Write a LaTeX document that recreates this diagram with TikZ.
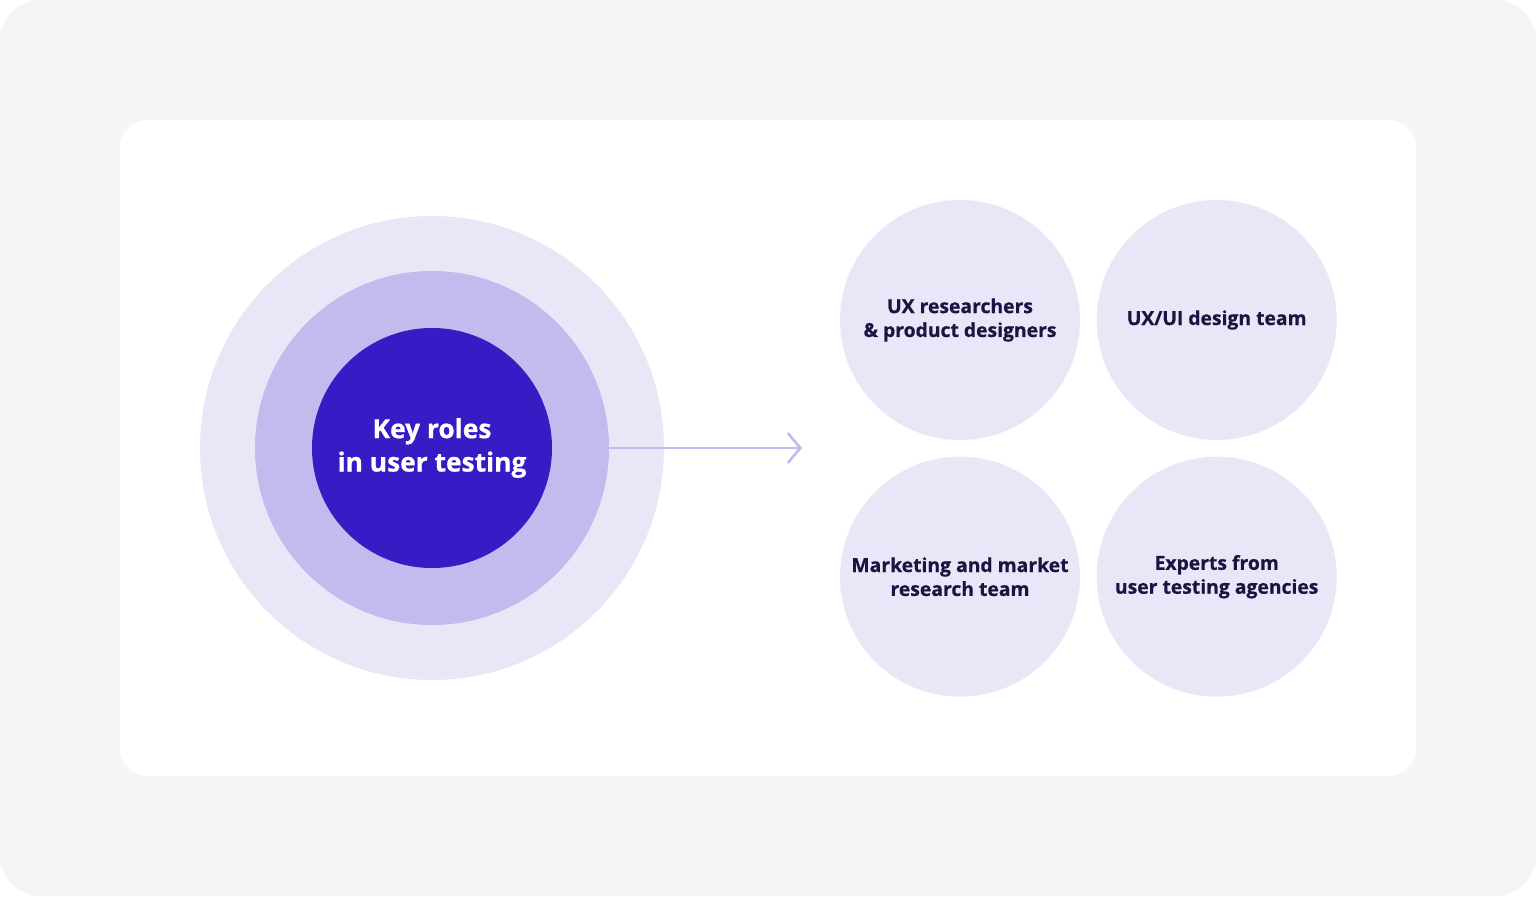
\documentclass[tikz,border=0pt]{standalone}
\usepackage{fontspec}
\setmainfont{Open Sans}[FakeBold=0.6]
\usetikzlibrary{positioning,arrows.meta}
\definecolor{pagegray}{HTML}{F5F5F7}
\definecolor{ringlight}{HTML}{E9E6F8}
\definecolor{ringmid}{HTML}{C3BBEE}
\definecolor{coreblue}{HTML}{351CC4}
\definecolor{rolefill}{HTML}{EAE6F8}
\definecolor{roletext}{HTML}{1A1440}
\tikzset{
  role/.style={circle, fill=rolefill, minimum size=4.8cm, inner sep=0pt, align=center,
    font=\fontsize{11}{13.6}\selectfont\bfseries, text=roletext},
}
\begin{document}
\begin{tikzpicture}
            % Background
            \fill[pagegray, rounded corners=0.8cm] (0,0) rectangle (30.72,17.92);
            \fill[white, rounded corners=0.56cm] (2.4,2.4) rectangle (28.32,15.52);
            \useasboundingbox (0,0) rectangle (30.72,17.92);

            % Rings
            \node[circle, fill=ringlight, minimum size=9.28cm, inner sep=0pt] (outer) at (8.64,8.96) {};
            \node[circle, fill=ringmid, minimum size=7.08cm, inner sep=0pt] (middle) at (8.64,8.96) {};
            \node[circle, fill=coreblue, minimum size=4.8cm, inner sep=0pt, align=center, text=white,
                  font=\fontsize{15}{19}\selectfont\bfseries] (core) at (8.64,8.96) {Key roles\\in user testing};

            % Roles
            \node[role] (researchers) at (19.2,11.52) {UX researchers\\\& product designers};
            \node[role, right=0.32cm of researchers] (design) {UX/UI design team};
            \node[role, below=0.32cm of researchers] (marketing) {Marketing and market\\research team};
            \node[role, right=0.32cm of marketing] (experts) {Experts from\\user testing agencies};

            % Arrow
            \coordinate (arrow_end) at (16.04,8.96);
            \draw[-{Straight Barb[length=0.25cm,width=0.6cm]}, ringmid, line width=1.5pt] (middle.east) -- (arrow_end);
        \end{tikzpicture}
\end{document}
